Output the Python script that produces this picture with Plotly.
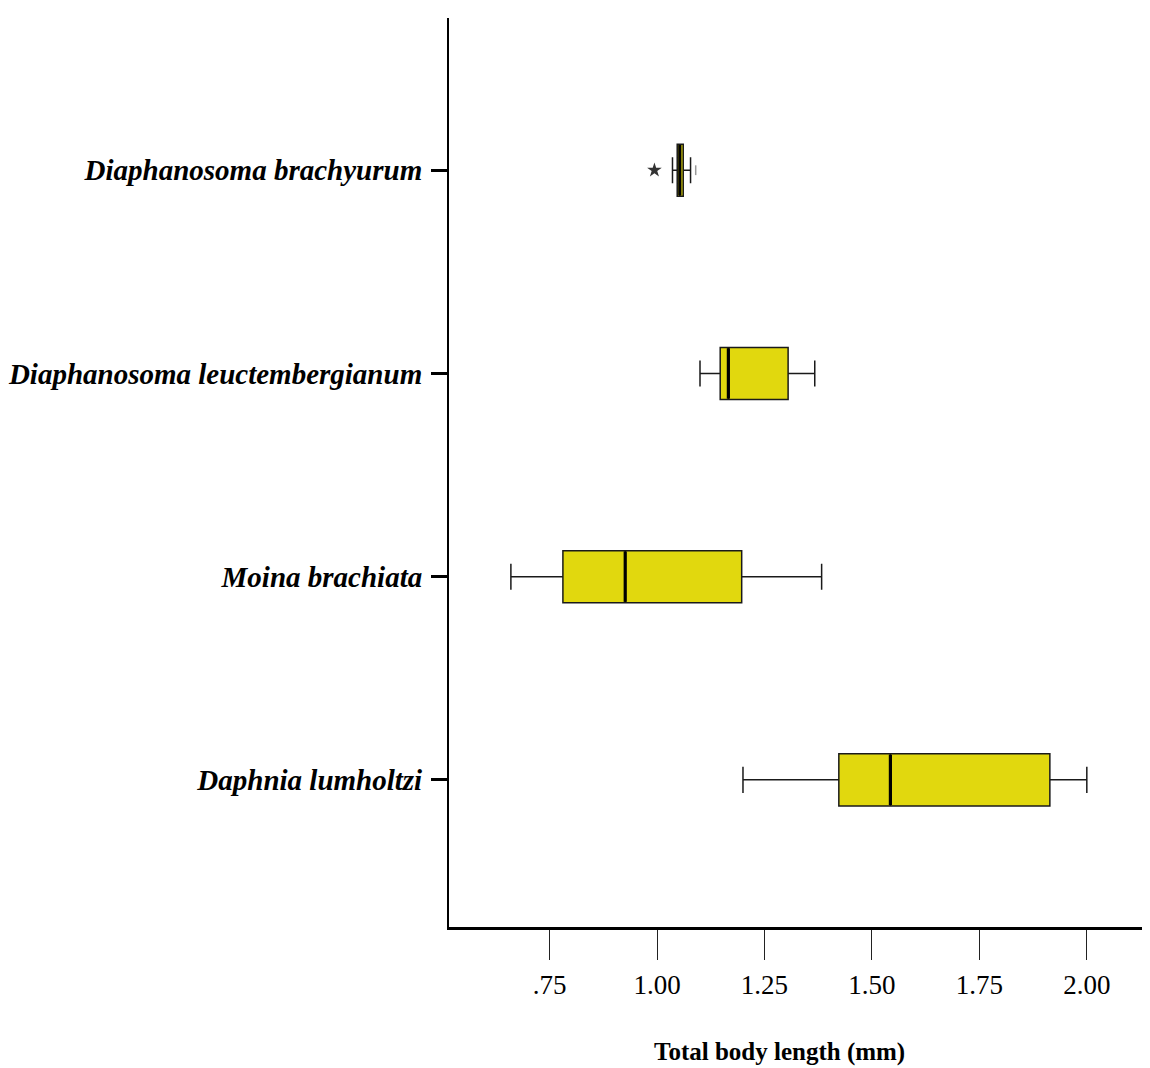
import plotly.graph_objects as go

species = ["Daphnia lumholtzi", "Moina brachiata",
           "Diaphanosoma leuctembergianum", "Diaphanosoma brachyurum"]
lower_whisker = [1.20, 0.66, 1.10, 1.036]
q1 = [1.423, 0.781, 1.147, 1.047]
median = [1.543, 0.926, 1.166, 1.053]
q3 = [1.914, 1.197, 1.305, 1.061]
upper_whisker = [2.00, 1.383, 1.367, 1.078]

outlier_species = ["Diaphanosoma brachyurum"]
outlier_values = [0.994]
minor_outlier_species = ["Diaphanosoma brachyurum"]
minor_outlier_values = [1.09]

tick_vals = [0.75, 1.00, 1.25, 1.50, 1.75, 2.00]
tick_text = [".75", "1.00", "1.25", "1.50", "1.75", "2.00"]

fig = go.Figure()
fig.add_trace(go.Box(
    y=species, q1=q1, median=median, q3=q3,
    lowerfence=lower_whisker, upperfence=upper_whisker,
    orientation="h", width=0.256, whiskerwidth=0.5,
    fillcolor="#E1D80E", line=dict(color="#1a1a1a", width=1.5),
    boxpoints=False, showlegend=False, hoverinfo="skip",
))
fig.add_trace(go.Scatter(
    x=median, y=species, mode="markers",
    marker=dict(symbol="line-ns", size=36, line=dict(color="#000000", width=3.2)),
    showlegend=False, hoverinfo="skip",
))
fig.add_trace(go.Scatter(
    x=outlier_values, y=outlier_species, mode="markers",
    marker=dict(symbol="star", size=11, color="#333333"),
    showlegend=False, hoverinfo="skip",
))
fig.add_trace(go.Scatter(
    x=minor_outlier_values, y=minor_outlier_species, mode="markers",
    marker=dict(symbol="line-ns", size=7, line=dict(color="#999999", width=1.5)),
    showlegend=False, hoverinfo="skip",
))

fig.update_layout(
    width=1142, height=1060,
    margin=dict(l=441, r=0, t=10, b=141),
    plot_bgcolor="white", paper_bgcolor="white",
    xaxis=dict(
        range=[0.516, 2.147], tickvals=tick_vals, ticktext=tick_text,
        showgrid=False, zeroline=False, automargin=False,
        showline=True, linecolor="black", linewidth=3,
        ticks="outside", ticklen=30, tickwidth=1.2, tickcolor="#222",
        tickfont=dict(family="Liberation Serif", size=27, color="black"),
        ticklabelstandoff=2,
    ),
    yaxis=dict(
        type="category", categoryorder="array", categoryarray=species,
        range=[-0.724, 3.749],
        showgrid=False, zeroline=False, automargin=False,
        showline=True, linecolor="black", linewidth=2,
        ticks="outside", ticklen=16, tickwidth=3, tickcolor="black",
        tickfont=dict(family="Liberation Serif", size=29, color="black",
                      weight="bold", style="italic"),
        ticklabelstandoff=3,
    ),
    annotations=[dict(
        text="<b>Total body length (mm)</b>", xref="paper", yref="paper",
        x=0.472, y=-0.1375, xanchor="center", yanchor="middle", showarrow=False,
        font=dict(family="Liberation Serif", size=25, color="black"),
    )],
)

fig.write_html("out.html")
